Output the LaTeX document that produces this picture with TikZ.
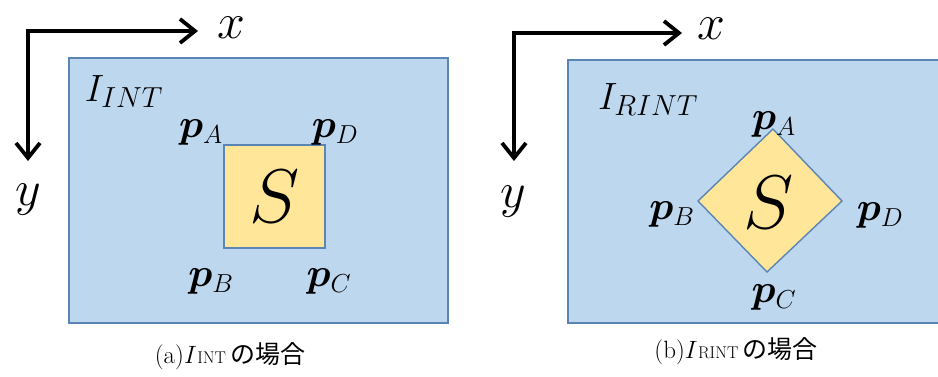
\RequirePackage{fix-cm}
\documentclass[tikz,border=0pt]{standalone}
\usepackage{bm}
\usepackage{fontspec}
\newfontfamily\cjk{Noto Sans CJK JP}
\usetikzlibrary{arrows.meta}
\definecolor{bgblue}{HTML}{BDD7EE}
\definecolor{sqyellow}{HTML}{FFE699}
\definecolor{edgeblue}{HTML}{5B85B5}
\tikzset{
  axisline/.style={line width=3.8pt,{Straight Barb[length=15pt,width=24pt]}-{Straight Barb[length=15pt,width=24pt]}},
  panel/.style={fill=bgblue,draw=edgeblue,line width=1.4pt},
  shapebox/.style={fill=sqyellow,draw=edgeblue,line width=1.4pt},
  axlbl/.style={font=\fontsize{50}{50}\selectfont,inner sep=0pt},
  ptlbl/.style={font=\fontsize{40}{42}\selectfont,inner sep=0pt,anchor=base},
  imglbl/.style={font=\fontsize{38}{40}\selectfont,inner sep=0pt,anchor=base},
  slbl/.style={font=\fontsize{76}{80}\selectfont,inner sep=0pt},
  caplbl/.style={font=\fontsize{25}{27}\selectfont,inner sep=0pt},
}
\newcommand{\pt}[1]{$\bm{p}_{\mbox{\fontsize{26}{26}\selectfont$#1$}}$}
\newcommand{\img}[1]{$I_{\mbox{\fontsize{29}{29}\selectfont$#1$}}$}
\newcommand{\capI}[1]{$I$\hspace{0.5pt}{\fontsize{17}{17}\selectfont #1}}
\begin{document}
\begin{tikzpicture}[x=1pt,y=-1pt]
\useasboundingbox (0,0) rectangle (938,376);
% ---------- (a) ----------
\draw[panel] (69,58) rectangle (448,323);
\coordinate (ax1) at (198,31);
\coordinate (ay1) at (28,161);
\draw[axisline] (ay1) |- (ax1);
\node[axlbl] (xl1) at (231,28) {$x$};
\node[axlbl] (yl1) at (28,200) {$y$};
\node[shapebox,minimum width=101pt,minimum height=103pt,inner sep=0pt] (sq) at (274.5,196.5) {};
\node[slbl] (s1) at (sq.center) {$S$};
\node[imglbl] (i1) at (124,101) {\img{INT}};
\node[ptlbl] (pa1) at (201,137) {\pt{A}};
\node[ptlbl] (pd1) at (335,137) {\pt{D}};
\node[ptlbl] (pb1) at (211,286) {\pt{B}};
\node[ptlbl] (pc1) at (329,286) {\pt{C}};
\node[caplbl] (cap1) at (230,356) {(a)\capI{INT}\,{\cjk の場合}};
% ---------- (b) ----------
\draw[panel] (568,60) rectangle (945,323);
\coordinate (ax2) at (682,33);
\coordinate (ay2) at (514,161);
\draw[axisline] (ay2) |- (ax2);
\node[axlbl] (xl2) at (711,29) {$x$};
\node[axlbl] (yl2) at (513,202) {$y$};
\coordinate (da) at (773,129);
\coordinate (db) at (698,201);
\coordinate (dc) at (767,272);
\coordinate (dd) at (842,201);
\draw[shapebox] (da) -- (db) -- (dc) -- (dd) -- cycle;
\node[slbl] (s2) at (769,203) {$S$};
\node[imglbl] (i2) at (648,109) {\img{RINT}};
\node[ptlbl] (pa2) at (774,129) {\pt{A}};
\node[ptlbl] (pb2) at (672,219) {\pt{B}};
\node[ptlbl] (pd2) at (880,220) {\pt{D}};
\node[ptlbl] (pc2) at (774,302) {\pt{C}};
\node[caplbl] (cap2) at (736,351) {(b)\capI{RINT}\,{\cjk の場合}};
\end{tikzpicture}
\end{document}
